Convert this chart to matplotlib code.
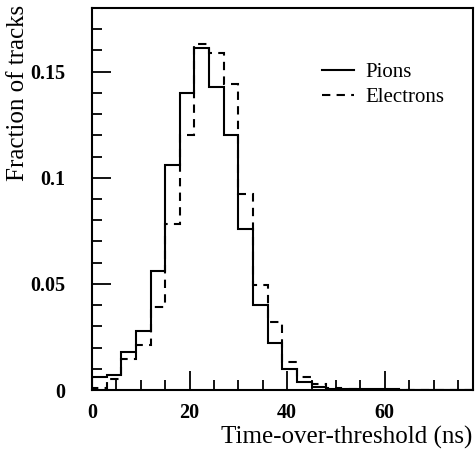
import matplotlib
matplotlib.use("Agg")
import matplotlib.pyplot as plt
from matplotlib.ticker import MultipleLocator, FixedLocator
import numpy as np

plt.rcParams['font.family'] = ['Liberation Serif', 'DejaVu Serif']

# bin edges in ns (3 ns bins, 0..78)
bin_edges = np.arange(0, 79, 3)

# fraction of tracks per bin
pions = [0.006, 0.007, 0.018, 0.028, 0.056, 0.106, 0.140, 0.161, 0.143,
         0.120, 0.076, 0.040, 0.022, 0.010, 0.004, 0.0015, 0.0006, 0.0005,
         0.0004, 0.0003, 0.0003, 0.0, 0.0, 0.0, 0.0, 0.0]
electrons = [0.001, 0.005, 0.0145, 0.021, 0.039, 0.078, 0.120, 0.163, 0.159,
             0.144, 0.0925, 0.0495, 0.032, 0.0134, 0.006, 0.0028, 0.001, 0.0005,
             0.0, 0.0, 0.0, 0.0, 0.0, 0.0, 0.0, 0.0]

x_ticks = [0, 20, 40, 60]
y_ticks = [0, 0.05, 0.1, 0.15]
y_tick_labels = ["0", "0.05", "0.1", "0.15"]

fig = plt.figure(figsize=(4.76, 4.54), dpi=100)
ax = fig.add_axes([92/476, 64/454, 380.7/476, 382/454])

ax.stairs(pions, bin_edges, color="black", lw=1.5, label="Pions")
ax.stairs(electrons, bin_edges, color="black", lw=1.5, ls=(0, (4, 3)),
          label="Electrons")

ax.set_xlim(0, 78)
ax.set_ylim(0, 0.18)

ax.xaxis.set_major_locator(FixedLocator(x_ticks))
ax.xaxis.set_minor_locator(MultipleLocator(5))
ax.yaxis.set_major_locator(FixedLocator(y_ticks))
ax.set_yticklabels(y_tick_labels)
ax.yaxis.set_minor_locator(MultipleLocator(0.01))

ax.tick_params(which="both", direction="in", top=False, right=False,
               labelsize=14.5, width=1.3)
ax.tick_params(axis="x", which="major", length=14, pad=9)
ax.tick_params(axis="y", which="major", length=14, pad=19)
ax.tick_params(which="minor", length=7.5)
for lab in ax.get_xticklabels() + ax.get_yticklabels():
    lab.set_fontweight("bold")
for sp in ax.spines.values():
    sp.set_linewidth(1.5)

fig.text(472/476, 1 - 437/454, "Time-over-threshold (ns)", ha="right",
         va="center", fontsize=18)
fig.text(18/476, 1 - 5/454, "Fraction of tracks", rotation=90, ha="center",
         va="top", fontsize=18)

ax.legend(loc="upper left", bbox_to_anchor=(0.605, 0.857), frameon=False,
          fontsize=15, handlelength=1.5, handletextpad=0.55, labelspacing=0.25,
          borderpad=0, borderaxespad=0)

fig.savefig("out.png", dpi=100)
